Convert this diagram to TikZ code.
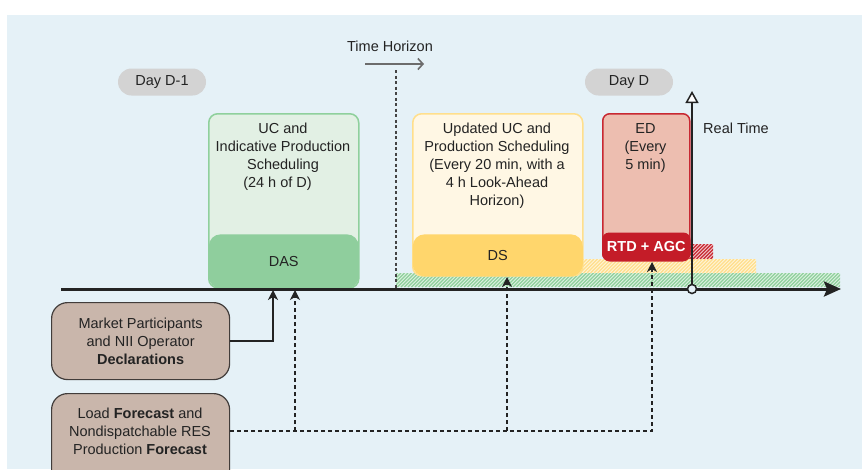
\documentclass[tikz,border=0pt]{standalone}
\usepackage{fontspec}
\setmainfont{Liberation Sans}
\usetikzlibrary{arrows.meta}
\definecolor{bg}{RGB}{229,241,247}
\definecolor{txt}{RGB}{35,35,35}
\definecolor{pillc}{RGB}{211,211,211}
\definecolor{gfill}{RGB}{226,240,228}
\definecolor{gline}{RGB}{143,208,156}
\definecolor{gband}{RGB}{143,206,157}
\definecolor{yfill}{RGB}{255,247,228}
\definecolor{yline}{RGB}{255,223,140}
\definecolor{yband}{RGB}{255,214,108}
\definecolor{rfill}{RGB}{237,190,176}
\definecolor{rline}{RGB}{200,40,50}
\definecolor{rband}{RGB}{196,28,40}
\definecolor{brownc}{RGB}{201,182,171}
\definecolor{browne}{RGB}{65,60,58}
\tikzset{
  pillbox/.style={fill=pillc, rounded corners=13.5pt, minimum width=88pt, minimum height=27pt, inner sep=0pt},
  mainbox/.style={line width=1.5pt, minimum width=#1, anchor=north west, inner sep=0pt},
  bandbox/.style={minimum width=#1, anchor=south, inner sep=0pt, rounded corners=12pt},
  boxtext/.style={align=center, anchor=north, inner sep=0pt},
  srcbox/.style={draw=browne, fill=brownc, line width=1.2pt, rounded corners=16pt, minimum width=178pt, anchor=north west, inner sep=0pt, align=center},
  tip/.style={-{Stealth[length=10pt,width=10pt,inset=3pt]}},
  dashline/.style={draw=txt, line width=1.3pt, dash pattern=on 4pt off 3pt},
  solidline/.style={draw=txt, line width=1.5pt},
}
\begin{document}
\begin{tikzpicture}[x=1pt,y=-1pt, font=\fontsize{14.5}{18}\selectfont, text=txt]
\useasboundingbox (0,0) rectangle (862,469);
\fill[bg] (7,15) rectangle (862,469);

% hatched bands
\begin{scope}
\clip (396,273) rectangle (840,287);
\fill[gline!30] (396,273) rectangle (840,287);
\foreach \i in {380,383.5,...,850} \draw[gline, line width=1.2pt] (\i,287) -- ++(14,-14);
\end{scope}
\begin{scope}
\clip (560,259) rectangle (756,273);
\fill[yline!35] (560,259) rectangle (756,273);
\foreach \i in {545,548.5,...,760} \draw[yline, line width=1.2pt] (\i,273) -- ++(14,-14);
\end{scope}
\begin{scope}
\clip (689,244) rectangle (713,259);
\fill[rline!25] (689,244) rectangle (713,259);
\foreach \i in {672,675.5,...,716} \draw[rline, line width=1.2pt] (\i,259) -- ++(15,-15);
\end{scope}

% pills
\node[pillbox] (dd1) at (162,82) {Day D-1};
\node[pillbox] (dd) at (629,82) {Day D};

% time horizon
\node (th) at (390,46) {Time Horizon};
\coordinate (tha) at (365,64);
\coordinate (thb) at (424,64);
\draw[draw=gray!85!black, line width=1.6pt, -{Straight Barb[length=5pt,width=11pt]}] (tha) -- (thb);
\coordinate (thv0) at (396,70);
\coordinate (thv1) at (396,289);
\draw[draw=txt!85, line width=1.2pt, dash pattern=on 3pt off 2.5pt] (thv0) -- (thv1);

% DAS box
\node[mainbox=150pt, draw=gline, fill=gfill, rounded corners=9pt, minimum height=174pt] (dasbox) at (208,113) {};
\node[bandbox=150pt, fill=gband, minimum height=54pt] (das) at (dasbox.south) {DAS};
\node[boxtext] (dast) at (283,123) {UC and\\Indicative Production\\Scheduling\\(24 h of D)\hspace*{11pt}};

% DS box
\node[mainbox=170pt, draw=yline, fill=yfill, rounded corners=9pt, minimum height=162pt] (dsbox) at (412,113) {};
\node[bandbox=170pt, fill=yband, minimum height=42pt] (ds) at (dsbox.south) {DS};
\node[boxtext] (dst) at (497,123) {Updated UC and\\Production Scheduling\\(Every 20 min, with a\\4 h Look-Ahead\\Horizon)};

% ED box
\node[mainbox=87pt, draw=rline, fill=rfill, rounded corners=7pt, minimum height=147pt] (edbox) at (602,113) {};
\node[bandbox=88.5pt, fill=rband, minimum height=28pt, rounded corners=7pt, text=white, font=\fontsize{14.5}{18}\selectfont\bfseries] (rtd) at ([yshift=0.75pt]edbox.south) {RTD + AGC};
\node[boxtext] (edt) at (645.5,123) {ED\\(Every\\5 min)};

% timeline
\coordinate (tl0) at (61,289);
\coordinate (tl1) at (841,289);
\draw[draw=txt, line width=3pt, -{Stealth[length=17pt,width=15pt,inset=3pt]}] (tl0) -- (tl1);

% real time
\coordinate (rt0) at (692,289);
\coordinate (rt1) at (692,91);
\draw[solidline, -{Triangle[length=12pt,width=13pt,fill=white]}] (rt0) -- (rt1);
\node[circle, draw=txt, fill=bg, line width=1.5pt, minimum size=9pt, inner sep=0pt] (rtc) at (rt0) {};
\node (rtl) at (736,128) {Real Time};

% source boxes
\node[srcbox, minimum height=77pt] (mkt) at (51,302) {Market Participants\\and NII Operator\\\textbf{Declarations}};
\node[srcbox, minimum height=95pt] (ldbox) at (51,393) {};
\node[align=center, inner sep=0pt] (ld) at (140,431) {Load \textbf{Forecast} and\\Nondispatchable RES\\Production \textbf{Forecast}};

% connectors
\coordinate (a1) at (273,290);
\coordinate (a2) at (295,290);
\coordinate (a3) at (507,277);
\coordinate (a4) at (652,262);
\coordinate (ldE) at (ldbox.east |- ld.center);
\coordinate (j2) at (295,431);
\coordinate (j3) at (507,431);
\draw[solidline, tip] (mkt.east) -| (a1);
\draw[dashline, tip] (ldE) -| (a4);
\draw[dashline, tip] (j2) -- (a2);
\draw[dashline, tip] (j3) -- (a3);
\end{tikzpicture}
\end{document}
